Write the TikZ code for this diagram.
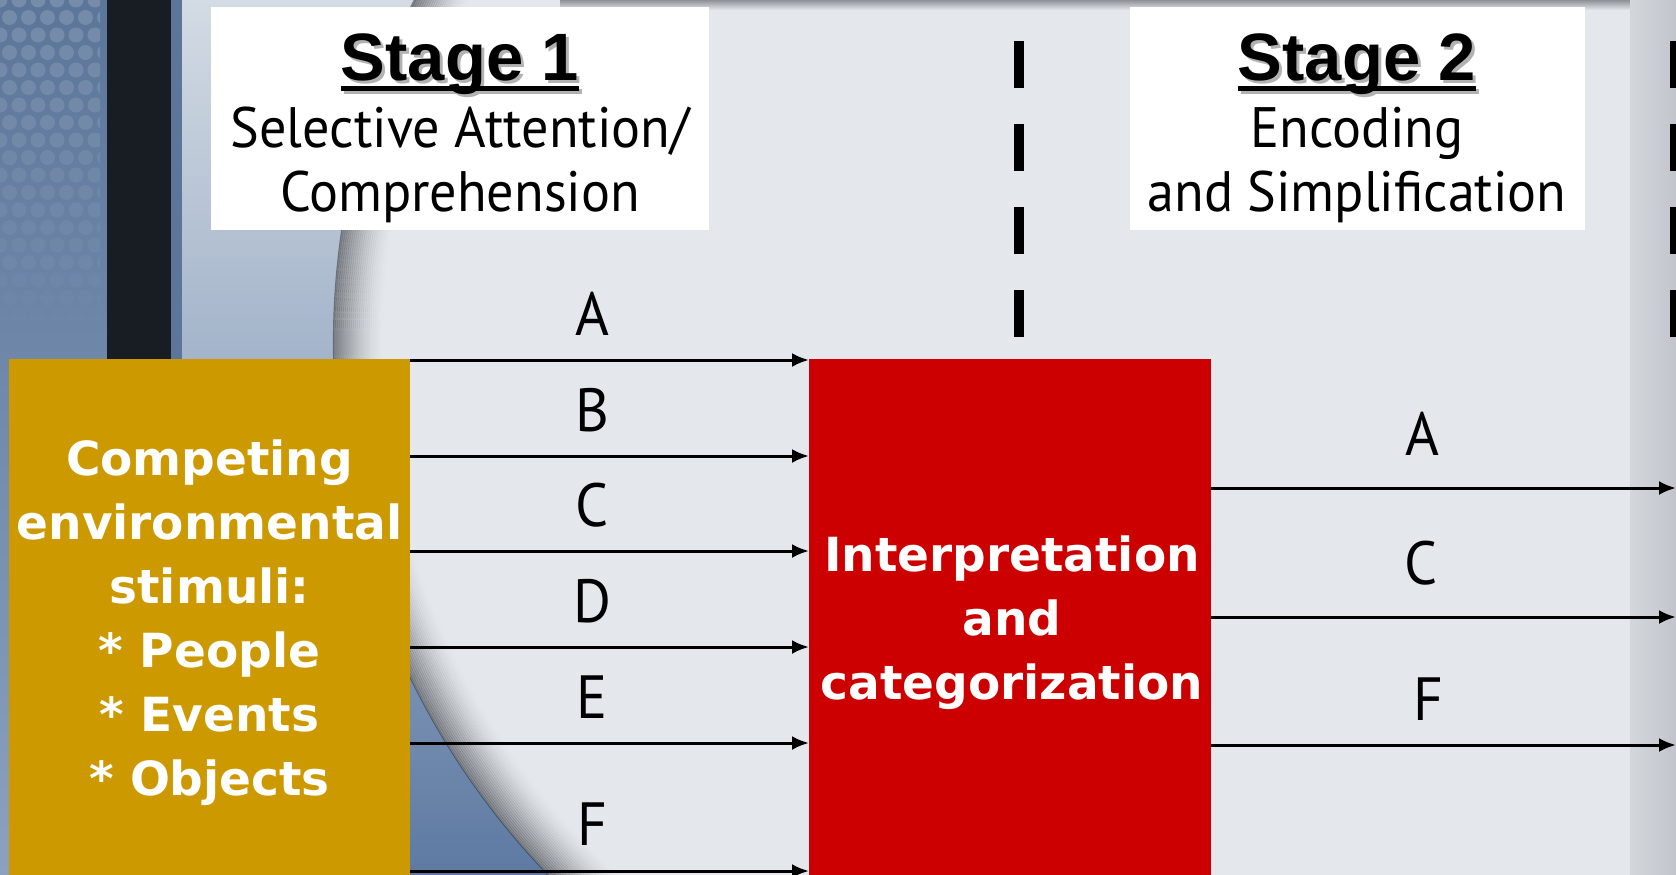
\documentclass[tikz,border=0pt]{standalone}
\usepackage{fontspec}
\usetikzlibrary{arrows.meta,calc}
\newfontfamily\plainsans{PT Sans}[FakeStretch=0.95]
\newfontfamily\heavysans{DejaVu Sans}
\newfontfamily\titlesans{Liberation Sans}
\definecolor{paper}{HTML}{E4E7EC}
\definecolor{gold}{HTML}{CC9900}
\definecolor{crimson}{HTML}{CC0000}
\definecolor{walltop}{HTML}{D3DBE4}
\definecolor{wallmid}{HTML}{AEBCCD}
\definecolor{wallbottom}{HTML}{5E7AA3}
\definecolor{panelblue}{HTML}{5C769A}
\definecolor{panelpale}{HTML}{8AA1BF}
\definecolor{darkband}{HTML}{181C23}
\definecolor{shadowgray}{HTML}{8E9298}
\definecolor{rimgray}{HTML}{2E3238}
\tikzset{
  flow/.style={-{Latex[length=17pt,width=14pt]}, line width=3pt, black},
  letter/.style={font=\plainsans\fontsize{61}{61}\selectfont, inner sep=0pt},
  headline/.style={font=\plainsans\fontsize{57}{57}\selectfont, inner sep=0pt},
  stagetitle/.style={font=\titlesans\bfseries\fontsize{67}{67}\selectfont, inner sep=0pt},
  boxtext/.style={font=\heavysans\bfseries\fontsize{47}{64}\selectfont, text=white, inner sep=0pt, align=center},
  panel/.style={inner sep=0pt, anchor=north west, draw=none},
  divider/.style={line width=10pt, dash pattern=on 47pt off 36pt, black}
}
\begin{document}
\begin{tikzpicture}[x=1pt,y=-1pt]
\useasboundingbox (0,0) rectangle (1676,875);

% wall behind the paper
\shade[top color=walltop, middle color=wallmid, bottom color=wallbottom] (0,0) rectangle (800,875);
\shade[top color=panelblue, bottom color=panelpale] (0,0) rectangle (107,875);
\begin{scope}
  \clip (0,0) rectangle (100,320);
  \foreach \r in {0,...,18} {
    \foreach \c in {0,...,5} {
      \fill[white, opacity={0.16*(1-\r/19)}] ({\c*19+mod(\r,2)*9.5},{\r*17.5}) circle (7.5pt);
    }
  }
\end{scope}
\fill[darkband] (107,0) rectangle (171,875);
\fill[panelblue] (171,0) rectangle (182,875);

% round sheet of paper with its soft rim
\begin{scope}
  \clip (0,0) rectangle (800,875);
  \fill[paper] (1100,343) circle (766pt);
  \foreach \k in {0,...,24} {
    \draw[rimgray, line width=2.2pt, opacity={0.55*(1-\k/25)^1.6}] (1100,343) circle ({766pt-\k*2pt});
  }
\end{scope}

% flat sheet on the right, its top rim and the grey panel at the edge
\fill[paper] (800,0) rectangle (1630,875);
\shade[top color=shadowgray, bottom color=paper] (560,0) rectangle (1630,10);
\shade[left color=paper!80!shadowgray, right color=paper!60!shadowgray] (1630,0) rectangle (1676,875);

% header cards
\node[panel, fill=white, minimum width=498pt, minimum height=223pt] (hdr1) at (211,7) {};
\node[panel, fill=white, minimum width=455pt, minimum height=223pt] (hdr2) at (1130,7) {};

% stage titles with drop shadow and underline
\node[stagetitle, text=black!30, anchor=base] (st1s) at (463,84) {Stage 1};
\draw[line width=5pt, black!30] ($(st1s.base west)+(0,7)$) -- ($(st1s.base east)+(0,7)$);
\node[stagetitle, anchor=base] (st1) at (460,81) {Stage 1};
\draw[line width=5pt] ($(st1.base west)+(0,7)$) -- ($(st1.base east)+(0,7)$);
\node[headline, anchor=base] (sel) at (460,147) {Selective Attention/};
\node[headline, anchor=base] (comp) at (460,211) {Comprehension};

\node[stagetitle, text=black!30, anchor=base] (st2s) at (1360,84) {Stage 2};
\draw[line width=5pt, black!30] ($(st2s.base west)+(0,7)$) -- ($(st2s.base east)+(0,7)$);
\node[stagetitle, anchor=base] (st2) at (1357,81) {Stage 2};
\draw[line width=5pt] ($(st2.base west)+(0,7)$) -- ($(st2.base east)+(0,7)$);
\node[headline, anchor=base] (enc) at (1357,147) {Encoding};
\node[headline, anchor=base] (simp) at (1357,211) {and Simplification};

% stage dividers
\coordinate (divtop) at (1019,41);
\coordinate (divbot) at (1019,340);
\draw[divider] (divtop) -- (divbot);
\coordinate (edgetop) at (1675,41);
\coordinate (edgebot) at (1675,340);
\draw[divider] (edgetop) -- (edgebot);

% the two process blocks
\node[panel, fill=gold, minimum width=401pt, minimum height=516pt] (src) at (9,359) {};
\node[panel, fill=crimson, minimum width=402pt, minimum height=516pt] (proc) at (809,359) {};
\node[boxtext] (srctext) at (209.5,623) {Competing\\environmental\\stimuli:\\* People\\* Events\\* Objects};
\node[boxtext] (proctext) at (1012,623) {Interpretation\\and\\categorization};

% stimuli entering stage 1
\foreach \lab/\yy/\ly in {A/360/335, B/456/431, C/551/526, D/647/622, E/743/718, F/871/845} {
  \coordinate (in\lab) at (0,\yy);
  \draw[flow] (src.east |- in\lab) -- (proc.west |- in\lab);
  \node[letter, anchor=base] (lin\lab) at (592,\ly) {\lab};
}

% stimuli leaving stage 2
\coordinate (rim) at (1676,0);
\foreach \lab/\yy/\lx/\ly in {A/488/1422/455, C/617/1421/584, F/745/1428/720} {
  \coordinate (out\lab) at (0,\yy);
  \draw[flow] (proc.east |- out\lab) -- (rim |- out\lab);
  \node[letter, anchor=base] (lout\lab) at (\lx,\ly) {\lab};
}
\end{tikzpicture}
\end{document}
